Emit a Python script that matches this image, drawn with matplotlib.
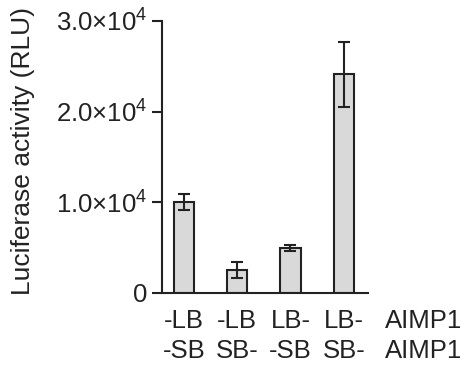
import matplotlib
matplotlib.use("Agg")
from matplotlib import pyplot as plt
from matplotlib.ticker import FuncFormatter

plt.rcParams["font.family"] = ["Liberation Sans", "DejaVu Sans"]
plt.rcParams["mathtext.fontset"] = "custom"
plt.rcParams["mathtext.rm"] = "Liberation Sans"
plt.rcParams["mathtext.it"] = "Liberation Sans"

row1 = ["-LB", "-LB", "LB-", "LB-"]
row2 = ["-SB", "SB-", "-SB", "SB-"]
row_names = ["AIMP1", "AIMP1"]
values = [10000, 2500, 4950, 24100]
errors = [900, 900, 350, 3600]
y_ticks = [0, 10000, 20000, 30000]

INK = "#222222"
FS = 18.5

fig = plt.figure(figsize=(4.68, 3.75), dpi=100)
ax = fig.add_axes([0.346, 0.219, 0.44, 0.725])

xs = list(range(len(values)))
ax.bar(xs, values, width=0.38, color="#d9d9d9", edgecolor=INK, linewidth=1.5, zorder=2)
ax.errorbar(xs, values, yerr=errors, fmt="none", ecolor=INK,
            elinewidth=1.5, capsize=4, capthick=1.5, zorder=3)

ax.set_xlim(-0.41, 3.45)
ax.set_ylim(0, 30000)
ax.set_yticks(y_ticks)


def fmt(v, pos):
    if v == 0:
        return "0"
    return r"%.1f×10$^{\mathrm{4}}$" % (v / 10000)


ax.yaxis.set_major_formatter(FuncFormatter(fmt))
ax.set_xticks([])
for s in ["top", "right"]:
    ax.spines[s].set_visible(False)
for s in ["left", "bottom"]:
    ax.spines[s].set_linewidth(1.5)
    ax.spines[s].set_color(INK)
ax.tick_params(axis="y", length=7, width=1.5, color=INK, labelsize=FS, pad=3.5, labelcolor=INK)

ax.set_ylabel("Luciferase activity (RLU)", fontsize=19, color=INK)
ax.yaxis.set_label_coords(-0.617, 0.522)

tr = ax.get_xaxis_transform()
for x, a, b in zip(xs, row1, row2):
    ax.text(x, -0.105, a, transform=tr, ha="center", va="center",
            fontsize=FS, color=INK, clip_on=False)
    ax.text(x, -0.212, b, transform=tr, ha="center", va="center",
            fontsize=FS, color=INK, clip_on=False)
ax.text(4.5, -0.105, row_names[0], transform=tr, ha="center",
        va="center", fontsize=FS, color=INK, clip_on=False)
ax.text(4.5, -0.212, row_names[1], transform=tr, ha="center",
        va="center", fontsize=FS, color=INK, clip_on=False)

fig.savefig("out.png", dpi=100)
